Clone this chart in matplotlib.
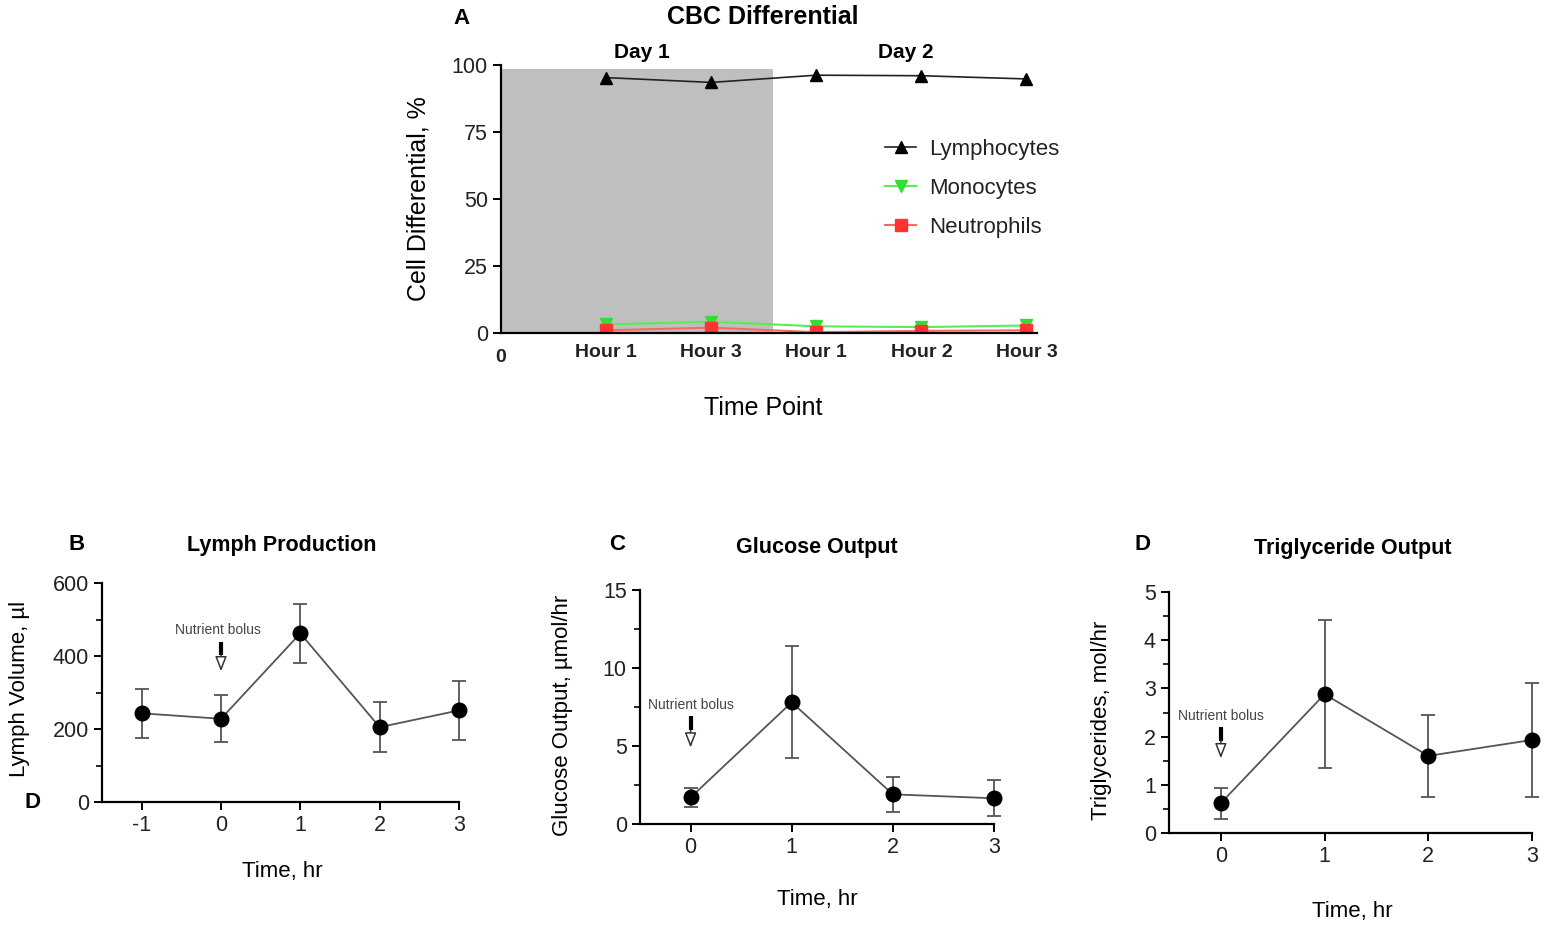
import matplotlib
matplotlib.use('Agg')
import matplotlib.pyplot as plt
from matplotlib.ticker import MultipleLocator

plt.rcParams['font.family'] = ['Liberation Sans', 'DejaVu Sans']

# Panel A data
cbc_x = [1, 2, 3, 4, 5]
cbc_labels = ['Hour 1', 'Hour 3', 'Hour 1', 'Hour 2', 'Hour 3']
lymphocytes = [95.3, 93.5, 96.2, 96.0, 94.8]
monocytes = [3.2, 4.2, 2.5, 2.2, 2.8]
neutrophils = [1.0, 2.0, 0.3, 0.8, 1.0]

# Panel B data
lymph_t = [-1, 0, 1, 2, 3]
lymph_vol = [243, 228, 462, 205, 251]
lymph_err = [67, 64, 80, 68, 80]

# Panel C data
gluc_t = [0, 1, 2, 3]
gluc_out = [1.7, 7.8, 1.9, 1.65]
gluc_err = [0.62, 3.6, 1.1, 1.15]

# Panel D data
tg_t = [0, 1, 2, 3]
tg_out = [0.62, 2.88, 1.6, 1.93]
tg_err = [0.32, 1.53, 0.85, 1.18]

W, H = 1543, 927
fig = plt.figure(figsize=(W / 100, H / 100), dpi=100)


def px_axes(x0, y0, x1, y1):
    # left, top, right, bottom in pixels
    return fig.add_axes([x0 / W, 1 - y1 / H, (x1 - x0) / W, (y1 - y0) / H])


def style_axes(ax):
    for s in ['top', 'right']:
        ax.spines[s].set_visible(False)
    for s in ['left', 'bottom']:
        ax.spines[s].set_linewidth(1.6)
    ax.tick_params(which='major', direction='out', length=6, width=1.4,
                   labelsize=15.5, labelcolor='#222222')
    ax.tick_params(which='minor', direction='out', length=4, width=1.2)


# ---------- Panel A ----------
axA = px_axes(501, 65, 1037, 333)
style_axes(axA)
axA.set_xlim(0, 5.1)
axA.set_ylim(0, 100)
axA.axvspan(0, 2.59, ymin=0, ymax=0.985, color='#bfbfbf', zorder=0, lw=0)
axA.plot(cbc_x, lymphocytes, '-', color='#222222', lw=1.2, marker='^',
         ms=8, mfc='black', mec='black', label='Lymphocytes', zorder=4)
axA.plot(cbc_x, monocytes, '-', color='#55ee55', lw=1.5, marker='v',
         ms=8, mfc='#33dd33', mec='#33dd33', label='Monocytes', zorder=3)
axA.plot(cbc_x, neutrophils, '-', color='#ff6666', lw=1.5, marker='s',
         ms=8, mfc='#ff3333', mec='#ff3333', label='Neutrophils', zorder=3)
axA.set_yticks([0, 25, 50, 75, 100])
axA.set_xticks(cbc_x)
axA.set_xticklabels(cbc_labels, fontweight='bold', fontsize=14)
axA.tick_params(axis='x', length=0, pad=8)
axA.text(0, -0.09, '0', transform=axA.get_xaxis_transform(), ha='center',
         va='center', fontsize=14, fontweight='bold', color='#222222')
axA.set_ylabel('Cell Differential, %', fontsize=18)
axA.yaxis.set_label_coords(-0.131, 0.5)
axA.set_xlabel('Time Point', fontsize=18)
axA.xaxis.set_label_coords(0.489, -0.235)
axA.text(0.489, 1.18, 'CBC Differential', transform=axA.transAxes,
         ha='center', va='center', fontsize=18, fontweight='bold')
axA.text(1.34, 104.5, 'Day 1', ha='center', va='center', fontsize=15,
         fontweight='bold', clip_on=False)
axA.text(3.85, 104.5, 'Day 2', ha='center', va='center', fontsize=15,
         fontweight='bold', clip_on=False)
leg = axA.legend(loc='upper left', bbox_to_anchor=(885 / W, 1 - 139 / H),
                 bbox_transform=fig.transFigure, frameon=False, fontsize=16,
                 borderpad=0, labelspacing=0.8, handlelength=1.4,
                 handletextpad=0.6, borderaxespad=0)
for txt in leg.get_texts():
    txt.set_color('#222222')
for sp in axA.spines.values():
    sp.set_zorder(5)


def time_panel(ax, t, y, err, xlim, ylim, major, minor, ylabel, title,
               ylab_xy, xlab_xy, title_xy, bolus_txt, bolus_from, bolus_to):
    style_axes(ax)
    ax.errorbar(t, y, yerr=err, fmt='-o', color='#555555', lw=1.3,
                elinewidth=1.3, capsize=5, capthick=1.3, ms=10.5, mfc='black',
                mec='black', clip_on=False, zorder=4)
    ax.set_xlim(*xlim)
    ax.set_ylim(*ylim)
    ax.set_xticks(t)
    ax.yaxis.set_major_locator(MultipleLocator(major))
    ax.yaxis.set_minor_locator(MultipleLocator(minor))
    ax.set_ylabel(ylabel, fontsize=16)
    ax.yaxis.set_label_coords(*ylab_xy)
    ax.set_xlabel('Time, hr', fontsize=16)
    ax.xaxis.set_label_coords(*xlab_xy)
    ax.text(title_xy[0], title_xy[1], title, transform=ax.transAxes,
            ha='center', va='center', fontsize=15.5, fontweight='bold')
    ax.text(bolus_txt[0], bolus_txt[1], 'Nutrient bolus', ha='center',
            va='center', fontsize=10, color='#444444')
    # thick black stem, hollow head
    mid = bolus_from + (bolus_to - bolus_from) * 0.45
    ax.plot([0, 0], [bolus_from, mid], color='black', lw=3,
            solid_capstyle='butt')
    ax.annotate('', xy=(0, bolus_to), xytext=(0, mid),
                arrowprops=dict(arrowstyle='-|>,head_length=0.9,head_width=0.35',
                                fc='white', ec='#333333', lw=1.1,
                                shrinkA=0, shrinkB=0))


# ---------- Panel B ----------
axB = px_axes(102, 583, 459, 802)
time_panel(axB, lymph_t, lymph_vol, lymph_err, (-1.5, 3), (0, 600), 200, 100,
           'Lymph Volume, µl', 'Lymph Production', (-0.202, 0.516),
           (0.504, -0.27), (0.504, 1.17), (-0.04, 472), 438, 358)
axB.set_xticklabels(['-1', '0', '1', '2', '3'])

# ---------- Panel C ----------
axC = px_axes(640, 590, 994, 824)
time_panel(axC, gluc_t, gluc_out, gluc_err, (-0.5, 3), (0, 15), 5, 2.5,
           'Glucose Output, µmol/hr', 'Glucose Output', (-0.189, 0.466),
           (0.5, -0.278), (0.5, 1.18), (0, 7.65), 6.9, 4.9)

# ---------- Panel D ----------
axD = px_axes(1169, 592, 1532, 833)
time_panel(axD, tg_t, tg_out, tg_err, (-0.5, 3), (0, 5), 1, 0.5,
           'Triglycerides, mol/hr', 'Triglyceride Output', (-0.157, 0.468),
           (0.505, -0.281), (0.505, 1.18), (0, 2.42), 2.2, 1.55)

# panel letters
for letter, x, y in [('A', 461, 18), ('B', 77, 545), ('C', 617, 545),
                     ('D', 1142, 545), ('D', 33, 803)]:
    fig.text(x / W, 1 - y / H, letter, ha='center', va='center', fontsize=16,
             fontweight='bold')

fig.savefig('out.png', dpi=100)
